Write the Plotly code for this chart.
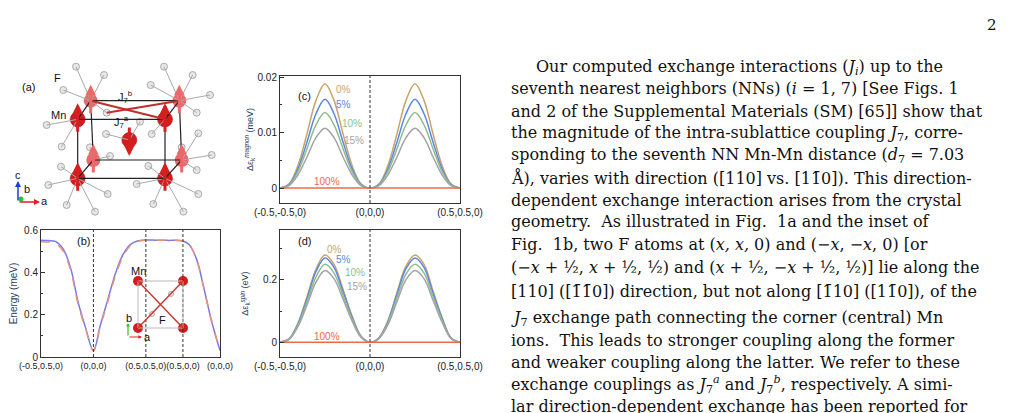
import plotly.graph_objects as go

W, H = 1004, 405
OFF = 8
def px(x): return (x - OFF) / W
def py(y): return 1 - (y - OFF) / H

# ---------- data ----------
b_x = [0, 0.1, 0.2, 0.3, 0.4, 0.5, 0.6, 0.7071, 0.8, 0.9, 1.0, 1.1, 1.2, 1.3, 1.4142,
       1.55, 1.7, 1.9142, 2.0, 2.1, 2.2, 2.3, 2.4142]
b_blue = [0.552, 0.55, 0.545, 0.51, 0.42, 0.26, 0.14, 0.03, 0.15, 0.27, 0.39, 0.48, 0.53, 0.548, 0.553,
          0.552, 0.551, 0.548, 0.53, 0.46, 0.32, 0.17, 0.03]
b_red = [0.545, 0.543, 0.536, 0.50, 0.41, 0.25, 0.135, 0.03, 0.145, 0.26, 0.38, 0.47, 0.525, 0.546, 0.552,
         0.552, 0.551, 0.548, 0.53, 0.46, 0.32, 0.17, 0.03]
b_ticks = [0, 0.7071, 1.4142, 1.9142, 2.4142]
b_ticklabels = ["(-0.5,0.5,0)", "(0,0,0)", "(0.5,0.5,0)", "(0.5,0,0)", "(0,0,0)"]

k_x = [-0.5, -0.45, -0.4, -0.35, -0.3, -0.25, -0.2, -0.15, -0.1, -0.05, 0,
       0.05, 0.1, 0.15, 0.2, 0.25, 0.3, 0.35, 0.4, 0.45, 0.5]
k_ticklabels = ["(-0.5,-0.5,0)", "(0,0,0)", "(0.5,0.5,0)"]
labels = ["0%", "5%", "10%", "15%", "100%"]
colors = ["#c9a468", "#5b86e5", "#8fbc8f", "#a3a3a3", "#f06a4a"]

c_0 = [0, .00075, .0041, .0098, .0158, .0188, .0158, .0098, .0041, .00075, 0,
       .00075, .0041, .0098, .0158, .0188, .0158, .0098, .0041, .00075, 0]
c_5 = [0, .00064, .0035, .0083, .0134, .0160, .0134, .0083, .0035, .00064, 0,
       .00064, .0035, .0083, .0134, .0160, .0134, .0083, .0035, .00064, 0]
c_10 = [0, .00054, .0030, .0071, .0114, .0136, .0114, .0071, .0030, .00054, 0,
        .00054, .0030, .0071, .0114, .0136, .0114, .0071, .0030, .00054, 0]
c_15 = [0, .00043, .0024, .0056, .0091, .0108, .0091, .0056, .0024, .00043, 0,
        .00043, .0024, .0056, .0091, .0108, .0091, .0056, .0024, .00043, 0]
c_100 = [0] * 21

d_0 = [0, .011, .062, .146, .235, .28, .25, .17, .085, .02, 0,
       .015, .07, .16, .245, .28, .25, .165, .08, .015, 0]
d_5 = [0, .011, .059, .140, .227, .27, .24, .163, .081, .019, 0,
       .014, .067, .154, .236, .27, .24, .158, .077, .014, 0]
d_10 = [0, .010, .055, .130, .210, .25, .222, .151, .075, .018, 0,
        .013, .062, .143, .219, .25, .222, .147, .071, .013, 0]
d_15 = [0, .009, .051, .120, .193, .23, .204, .139, .069, .016, 0,
        .012, .057, .131, .201, .23, .204, .135, .065, .012, 0]
d_100 = [0] * 21

fig = go.Figure()
SANS = "Liberation Sans"

fig.add_trace(go.Scatter(x=b_x, y=b_blue, mode="lines", line=dict(color="#7a7ae8", width=1.5, shape="spline"),
                         xaxis="x", yaxis="y", showlegend=False))
fig.add_trace(go.Scatter(x=b_x, y=b_red, mode="lines", line=dict(color="#e8907a", width=1.5, dash="dash", shape="spline"),
                         xaxis="x", yaxis="y", showlegend=False))
for ser, col in zip([c_0, c_5, c_10, c_15, c_100], colors):
    fig.add_trace(go.Scatter(x=k_x, y=ser, mode="lines", line=dict(color=col, width=1.5, shape="spline"),
                             xaxis="x2", yaxis="y2", showlegend=False))
for ser, col in zip([d_0, d_5, d_10, d_15, d_100], colors):
    fig.add_trace(go.Scatter(x=k_x, y=ser, mode="lines", line=dict(color=col, width=1.5, shape="spline"),
                             xaxis="x3", yaxis="y3", showlegend=False))

base = dict(showline=True, linecolor="#333", linewidth=1, mirror=True, tickcolor="#333", showgrid=False,
            zeroline=False, automargin=False, tickfont=dict(family=SANS, size=10, color="#222"))
yb = dict(base, ticks="inside", ticklen=4)
xb = dict(base, ticks="", tickangle=0)
fig.update_layout(
    width=W, height=H, margin=dict(l=0, r=0, t=0, b=0, autoexpand=False), paper_bgcolor="white",
    plot_bgcolor="rgba(0,0,0,0)",
    xaxis=dict(xb, domain=[px(41), px(220)], range=[0, 2.4142], tickvals=b_ticks, ticktext=b_ticklabels, anchor="y",
               tickfont=dict(family=SANS, size=9, color="#222")),
    yaxis=dict(yb, domain=[py(357), py(230)], range=[0, 0.6], tickvals=[0, 0.2, 0.4, 0.6], anchor="x",
               minor=dict(dtick=0.1, ticks="inside", ticklen=2, tickcolor="#333"),
               title=dict(text="Energy (meV)", font=dict(family=SANS, size=10), standoff=4)),
    xaxis2=dict(xb, domain=[px(280), px(460)], range=[-0.5, 0.5], tickvals=[-0.5, 0, 0.5], ticktext=k_ticklabels,
                anchor="y2"),
    yaxis2=dict(yb, domain=[py(203), py(76)], range=[-0.0027, 0.0202], tickvals=[0, 0.01, 0.02],
                ticktext=["0", "0.01", "0.02"], anchor="x2",
                minor=dict(dtick=0.005, ticks="inside", ticklen=2, tickcolor="#333"),
                title=dict(text="Δε<sub>k</sub><sup><i>magnon</i></sup> (meV)", font=dict(family=SANS, size=9), standoff=2)),
    xaxis3=dict(xb, domain=[px(280), px(460)], range=[-0.5, 0.5], tickvals=[-0.5, 0, 0.5], ticktext=k_ticklabels,
                anchor="y3"),
    yaxis3=dict(yb, domain=[py(357), py(230)], range=[-0.047, 0.36], tickvals=[0, 0.2], ticktext=["0", "0.2"],
                anchor="x3", minor=dict(dtick=0.1, ticks="inside", ticklen=2, tickcolor="#333"),
                title=dict(text="Δε<sub>k</sub><sup><i>spin</i></sup> (eV)", font=dict(family=SANS, size=9), standoff=12)),
    xaxis4=dict(domain=[0, px(250)], range=[OFF, 250], visible=False, anchor="y4"),
    yaxis4=dict(domain=[py(380), py(60)], range=[380, 60], visible=False, anchor="x4"),
)

shapes = []
for xv in b_ticks[1:4]:
    shapes.append(dict(type="line", xref="x", yref="paper", x0=xv, x1=xv, y0=py(357), y1=py(230),
                       line=dict(color="#333", width=1, dash="3px,2px")))
for xr, y0, y1 in [("x2", 203, 76), ("x3", 357, 230)]:
    shapes.append(dict(type="line", xref=xr, yref="paper", x0=0, x1=0, y0=py(y0), y1=py(y1),
                       line=dict(color="#555", width=1.2, dash="3px,2px")))

ann = []
c_lab = [(-0.15, 0.0177), (-0.15, 0.0151), (-0.1, 0.0117), (-0.09, 0.0086), (-0.24, 0.0011)]
d_lab = [(-0.2, 0.297), (-0.15, 0.266), (-0.083, 0.225), (-0.07, 0.178), (-0.24, 0.02)]
for (x, y), t, c in zip(c_lab, labels, colors):
    ann.append(dict(x=x, y=y, xref="x2", yref="y2", text=t, showarrow=False, font=dict(family=SANS, size=10, color=c)))
for (x, y), t, c in zip(d_lab, labels, colors):
    ann.append(dict(x=x, y=y, xref="x3", yref="y3", text=t, showarrow=False, font=dict(family=SANS, size=10, color=c)))
for t, x, y in [("(c)", 296, 88), ("(d)", 296, 241), ("(b)", 75, 241)]:
    ann.append(dict(x=px(x), y=py(y), xref="paper", yref="paper", text=t, showarrow=False,
                    font=dict(family=SANS, size=11, color="#111")))

# ---------- panel (a) illustration ----------
def A(x, y): return (x / 3, y / 3 + 60)
mn_front = [A(233, 178), A(495, 178), A(233, 355), A(495, 355)]
mn_back = [A(272, 122), A(538, 122), A(280, 300), A(545, 300)]
mn_center = A(388, 240)
f_atoms = [A(*p) for p in [(228, 20), (312, 45), (492, 20), (578, 45), (452, 75), (630, 105), (590, 158), (320, 158),
                           (140, 195), (185, 260), (318, 222), (455, 222), (420, 185), (595, 220), (545, 262), (270, 262),
                           (183, 320), (145, 375), (200, 435), (285, 455), (323, 402), (410, 372), (460, 432), (550, 455),
                           (595, 402), (635, 285), (445, 318), (330, 288), (190, 90), (590, 330)]]
mn_all = mn_front + mn_back + [mn_center]
for fx, fy in f_atoms:
    mx, my = min(mn_all, key=lambda m: (m[0] - fx) ** 2 + (m[1] - fy) ** 2)
    shapes.append(dict(type="line", xref="x4", yref="y4", x0=fx, y0=fy, x1=mx, y1=my, line=dict(color="#aaa", width=1)))
def edge(p, q, col="#222", w=1.2):
    shapes.append(dict(type="line", xref="x4", yref="y4", x0=p[0], y0=p[1], x1=q[0], y1=q[1], line=dict(color=col, width=w)))
for i, j in [(0, 1), (2, 3), (0, 2), (1, 3)]:
    edge(mn_front[i], mn_front[j]); edge(mn_back[i], mn_back[j])
for i in range(4):
    edge(mn_front[i], mn_back[i])
edge(mn_back[0], mn_front[1], "#c0302a", 2)
edge(A(320, 158), mn_back[1], "#c0302a", 2)

fig.add_trace(go.Scatter(x=[p[0] for p in f_atoms], y=[p[1] for p in f_atoms], mode="markers", xaxis="x4", yaxis="y4",
                         marker=dict(size=7, color="#e8e8e8", line=dict(color="#999", width=0.8)), showlegend=False))
fig.add_trace(go.Scatter(x=[p[0] for p in mn_back], y=[p[1] for p in mn_back], mode="markers", xaxis="x4", yaxis="y4",
                         marker=dict(size=14, color="#e35050", opacity=0.85), showlegend=False))
def arrow(x, y, up, col):
    d = -1 if up else 1
    ann.append(dict(x=x, y=y + 16 * d, ax=x, ay=y - 14 * d, xref="x4", yref="y4", axref="x4", ayref="y4",
                    text="", showarrow=True, arrowhead=2, arrowsize=0.7, arrowwidth=3, arrowcolor=col))
for p in mn_front:
    arrow(p[0], p[1], True, "#d42020")
for p in mn_back:
    arrow(p[0], p[1], True, "#ea6a6a")
arrow(mn_center[0], mn_center[1], False, "#d42020")
fig.add_trace(go.Scatter(x=[p[0] for p in mn_front] + [mn_center[0]], y=[p[1] for p in mn_front] + [mn_center[1]],
                         mode="markers", xaxis="x4", yaxis="y4",
                         marker=dict(size=15, color="#d41c1c", line=dict(color="#a00", width=0.5)), showlegend=False))

for t, (x, y) in [("(a)", (28, 87)), ("F", (57, 78)), ("Mn", (58, 115)), ("J<sub>7</sub><sup>b</sup>", (125, 97)),
                  ("J<sub>7</sub><sup>a</sup>", (121, 122)), ("c", (18, 175)), ("b", (27, 189)), ("a", (44, 201))]:
    ann.append(dict(x=x, y=y, xref="x4", yref="y4", text=t, showarrow=False, font=dict(family=SANS, size=11, color="#111")))
ann.append(dict(x=18, y=181, ax=18, ay=202, xref="x4", yref="y4", axref="x4", ayref="y4", text="", showarrow=True,
                arrowhead=2, arrowsize=0.8, arrowwidth=1.5, arrowcolor="#1a3fd8"))
ann.append(dict(x=40, y=202, ax=18, ay=202, xref="x4", yref="y4", axref="x4", ayref="y4", text="", showarrow=True,
                arrowhead=2, arrowsize=0.8, arrowwidth=1.5, arrowcolor="#e02020"))
fig.add_trace(go.Scatter(x=[21], y=[199], mode="markers", xaxis="x4", yaxis="y4", marker=dict(size=5, color="#2ec02e"),
                         showlegend=False))

# ---------- inset in (b) ----------
sq = [(138, 281), (183, 281), (183, 328), (138, 328)]
for i in range(4):
    edge(sq[i], sq[(i + 1) % 4], "#bbb", 1)
edge(sq[0], sq[2], "#c83a34", 1.5)
edge(sq[1], sq[3], "#c83a34", 1.5)
fig.add_trace(go.Scatter(x=[p[0] for p in sq], y=[p[1] for p in sq], mode="markers", xaxis="x4", yaxis="y4",
                         marker=dict(size=10, color="#d41c1c"), showlegend=False))
fig.add_trace(go.Scatter(x=[171, 152], y=[294, 314], mode="markers", xaxis="x4", yaxis="y4",
                         marker=dict(size=5, color="#eee", line=dict(color="#999", width=0.8)), showlegend=False))
for t, (x, y) in [("Mn", (138, 271)), ("F", (162, 320)), ("b", (129, 318)), ("a", (147, 337))]:
    ann.append(dict(x=x, y=y, xref="x4", yref="y4", text=t, showarrow=False, font=dict(family=SANS, size=11, color="#111")))
ann.append(dict(x=128, y=323, ax=128, ay=337, xref="x4", yref="y4", axref="x4", ayref="y4", text="", showarrow=True,
                arrowhead=2, arrowsize=0.6, arrowwidth=1.2, arrowcolor="#2ec02e"))
ann.append(dict(x=142, y=337, ax=128, ay=337, xref="x4", yref="y4", axref="x4", ayref="y4", text="", showarrow=True,
                arrowhead=2, arrowsize=0.6, arrowwidth=1.2, arrowcolor="#e02020"))

# ---------- right column text ----------
lines = [
    (534, 67, "Our computed exchange interactions (<i>J<sub>i</sub></i>) up to the"),
    (509, 89, "seventh nearest neighbors (NNs) (<i>i</i> = 1, 7) [See Figs. 1"),
    (509, 111, "and 2 of the Supplemental Materials (SM) [65]] show that"),
    (509, 133, "the magnitude of the intra-sublattice coupling <i>J</i><sub>7</sub>, corre-"),
    (509, 155, "sponding to the seventh NN Mn-Mn distance (<i>d</i><sub>7</sub> = 7.03"),
    (509, 178, "Å), varies with direction ([110] vs. [11̄0]). This direction-"),
    (509, 200, "dependent exchange interaction arises from the crystal"),
    (509, 222, "geometry.  As illustrated in Fig.  1a and the inset of"),
    (509, 244, "Fig.  1b, two F atoms at (<i>x, x,</i> 0) and (−<i>x</i>, −<i>x</i>, 0) [or"),
    (509, 267, "(−<i>x</i> + ½, <i>x</i> + ½, ½) and (<i>x</i> + ½, −<i>x</i> + ½, ½)] lie along the"),
    (509, 291, "[110] ([1̄1̄0]) direction, but not along [1̄10] ([11̄0]), of the"),
    (509, 318, "<i>J</i><sub>7</sub> exchange path connecting the corner (central) Mn"),
    (509, 340, "ions.  This leads to stronger coupling along the former"),
    (509, 362, "and weaker coupling along the latter. We refer to these"),
    (509, 384, "exchange couplings as <i>J</i><sub>7</sub><sup><i>a</i></sup> and <i>J</i><sub>7</sub><sup><i>b</i></sup>, respectively. A simi-"),
    (509, 406, "lar direction-dependent exchange has been reported for"),
]
for x, y, t in lines:
    ann.append(dict(x=px(x), y=py(y), xref="paper", yref="paper", xanchor="left", yanchor="middle", text=t,
                    showarrow=False, font=dict(family="DejaVu Serif", size=16, color="#111")))
ann.append(dict(x=px(999), y=py(14), xref="paper", yref="paper", text="2", showarrow=False,
                font=dict(family="DejaVu Serif", size=15, color="#111")))

fig.update_layout(shapes=shapes, annotations=ann)
fig.write_html("out.html")
